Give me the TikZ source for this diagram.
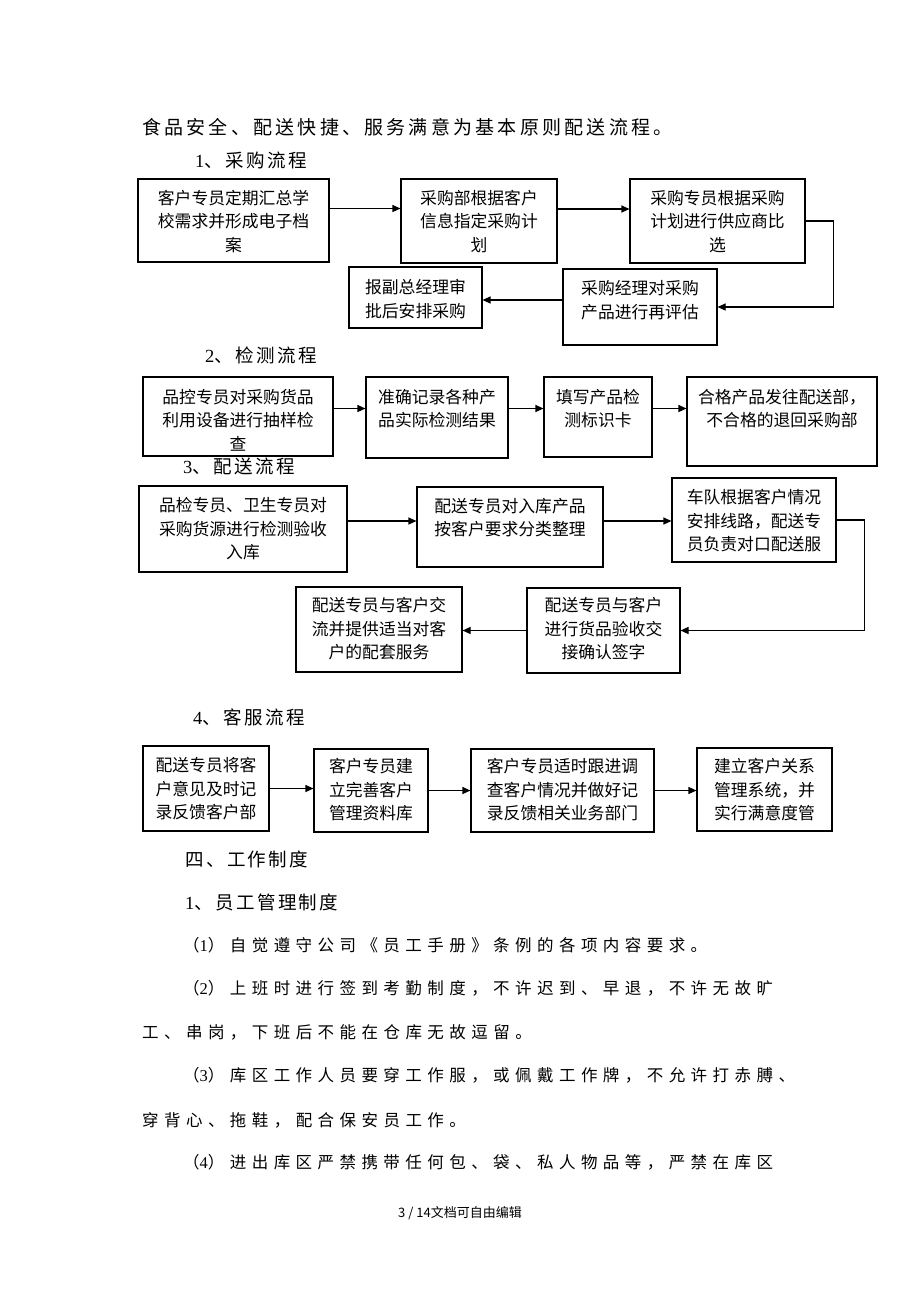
\documentclass[tikz,border=0pt]{standalone}
\usepackage{fontspec}
\setmainfont{Noto Sans CJK SC}
\newfontfamily\cjkhead[LetterSpace=13]{Noto Sans CJK SC}
\newfontfamily\cjkbody[LetterSpace=33]{Noto Sans CJK SC}
\newfontfamily\cjktitle[LetterSpace=17]{Noto Sans CJK SC}
\newfontfamily\cjkfoot{Noto Sans CJK SC}
\newfontfamily\digf[LetterSpace=20]{Liberation Serif}
\newcommand\dg[1]{{\digf #1}}
\usetikzlibrary{arrows.meta}
\tikzset{
  box/.style={draw=black, line width=1.1pt, inner sep=0pt},
  btext/.style={align=center, inner sep=0pt, font=\fontsize{16.8}{23.5}\selectfont},
  arr/.style={draw=black, line width=1.1pt, -{Triangle[length=8pt,width=7pt]}},
  titletext/.style={anchor=west, inner sep=0pt, font=\fontsize{19}{22}\cjktitle},
  head/.style={anchor=west, inner sep=0pt, font=\fontsize{18.5}{22}\cjkhead},
  body/.style={anchor=west, inner sep=0pt, font=\fontsize{16.5}{22}\cjkbody},
  foot/.style={anchor=west, inner sep=0pt, font=\fontsize{13}{15}\cjkfoot},
}
\begin{document}
\begin{tikzpicture}[x=1pt,y=-1pt]
\fill[white] (0,0) rectangle (920,1302);
\useasboundingbox (0,0) rectangle (920,1302);

\node[titletext] (title) at (142,127) {食品安全、配送快捷、服务满意为基本原则配送流程。};

% ---- 1 purchasing
\node[head] (h1) at (195,160) {\dg{1}、采购流程};
\node[box, minimum width=191pt, minimum height=83pt] (a1) at (233.5,220.5) {};
\node[btext] (a1t) at (233.5,221.5) {客户专员定期汇总学\\校需求并形成电子档\\案};
\node[box, minimum width=156pt, minimum height=84pt] (a2) at (479,221) {};
\node[btext] (a2t) at (479,221.5) {采购部根据客户\\信息指定采购计\\划};
\node[box, minimum width=175pt, minimum height=84pt] (a3) at (717.5,221) {};
\node[btext] (a3t) at (717.5,221.5) {采购专员根据采购\\计划进行供应商比\\选};
\node[box, minimum width=154pt, minimum height=76pt] (a4) at (640,307) {};
\node[btext] (a4t) at (640,300) {采购经理对采购\\产品进行再评估};
\node[box, minimum width=133pt, minimum height=61pt] (a5) at (415.5,297.5) {};
\node[btext] (a5t) at (415.5,299) {报副总经理审\\批后安排采购};

\draw[arr] ([yshift=12pt]a1.east) -- ([yshift=12pt]a1.east -| a2.west);
\draw[arr] ([yshift=12pt]a2.east) -- ([yshift=12pt]a2.east -| a3.west);
\draw[arr] (a3.east) -- ++(28,0) |- (a4.east);
\draw[arr] ([yshift=7pt]a4.west) -- ([yshift=7pt]a4.west -| a5.east);

% ---- 2 inspection
\node[head] (h2) at (205,355) {\dg{2}、检测流程};
\node[box, minimum width=190pt, minimum height=79pt] (b1) at (238,416.5) {};
\node[btext] (b1t) at (238,420) {品控专员对采购货品\\利用设备进行抽样检\\查};
\node[box, minimum width=142pt, minimum height=81pt] (b2) at (437,417.5) {};
\node[btext] (b2t) at (437,408.5) {准确记录各种产\\品实际检测结果};
\node[box, minimum width=108pt, minimum height=80pt] (b3) at (598,417) {};
\node[btext] (b3t) at (598,408.5) {填写产品检\\测标识卡};
\node[box, minimum width=190pt, minimum height=89pt] (b4) at (782,421.5) {};
\node[btext] (b4t) at (782,408.5) {合格产品发往配送部，\\不合格的退回采购部};

\draw[arr] (b1.east |- b2t.center) -- (b2.west |- b2t.center);
\draw[arr] (b2.east |- b3t.center) -- (b3.west |- b3t.center);
\draw[arr] (b3.east |- b4t.center) -- (b4.west |- b4t.center);

% ---- 3 delivery
\node[head] (h3) at (183,466) {\dg{3}、配送流程};
\node[box, minimum width=208pt, minimum height=86pt] (c1) at (243,529) {};
\node[btext] (c1t) at (243,529) {品检专员、卫生专员对\\采购货源进行检测验收\\入库};
\node[box, minimum width=186pt, minimum height=80pt] (c2) at (510,527) {};
\node[btext] (c2t) at (510,517.5) {配送专员对入库产品\\按客户要求分类整理};
\node[box, minimum width=164pt, minimum height=84pt] (c3) at (754,520) {};
\node[btext] (c3t) at (754,521) {车队根据客户情况\\安排线路，配送专\\员负责对口配送服};
\node[box, minimum width=153pt, minimum height=85pt] (c4) at (603.5,630.5) {};
\node[btext] (c4t) at (603.5,629) {配送专员与客户\\进行货品验收交\\接确认签字};
\node[box, minimum width=166pt, minimum height=85pt] (c5) at (379,629.5) {};
\node[btext] (c5t) at (379,629) {配送专员与客户交\\流并提供适当对客\\户的配套服务};

\draw[arr] (c1.east |- c3t.center) -- (c2.west |- c3t.center);
\draw[arr] (c2.east |- c3t.center) -- (c3.west |- c3t.center);
\draw[arr] (c3.east) -- ++(28,0) |- (c4.east);
\draw[arr] (c4.west) -- (c4.west -| c5.east);

% ---- 4 customer service
\node[head] (h4) at (193,717) {\dg{4}、客服流程};
\node[box, minimum width=126pt, minimum height=85pt] (d1) at (206,788.5) {};
\node[btext] (d1t) at (206,789) {配送专员将客\\户意见及时记\\录反馈客户部};
\node[box, minimum width=114pt, minimum height=83pt] (d2) at (371,790.5) {};
\node[btext] (d2t) at (371,790) {客户专员建\\立完善客户\\管理资料库};
\node[box, minimum width=183pt, minimum height=83pt] (d3) at (562.5,790.5) {};
\node[btext] (d3t) at (562.5,790) {客户专员适时跟进调\\查客户情况并做好记\\录反馈相关业务部门};
\node[box, minimum width=135pt, minimum height=83pt] (d4) at (764.5,789.5) {};
\node[btext] (d4t) at (764.5,790) {建立客户关系\\管理系统，并\\实行满意度管};

\draw[arr] (d1.east) -- (d1.east -| d2.west);
\draw[arr] (d2.east) -- (d2.east -| d3.west);
\draw[arr] (d3.east) -- (d3.east -| d4.west);

% ---- text body
\node[head] (s4) at (185,859) {四、工作制度};
\node[head] (s41) at (185,902) {\dg{1}、员工管理制度};
\node[body] (p1) at (183,945) {（\dg{1}）自觉遵守公司《员工手册》条例的各项内容要求。};
\node[body] (p2) at (183,988) {（\dg{2}）上班时进行签到考勤制度，不许迟到、早退，不许无故旷};
\node[body] (p2b) at (142,1032) {工、串岗，下班后不能在仓库无故逗留。};
\node[body] (p3) at (183,1075) {（\dg{3}）库区工作人员要穿工作服，或佩戴工作牌，不允许打赤膊、};
\node[body] (p3b) at (142,1120) {穿背心、拖鞋，配合保安员工作。};
\node[body] (p4) at (183,1162) {（\dg{4}）进出库区严禁携带任何包、袋、私人物品等，严禁在库区};
\node[foot] (ft) at (398,1213) {3 / 14文档可自由编辑};
\end{tikzpicture}
\end{document}
